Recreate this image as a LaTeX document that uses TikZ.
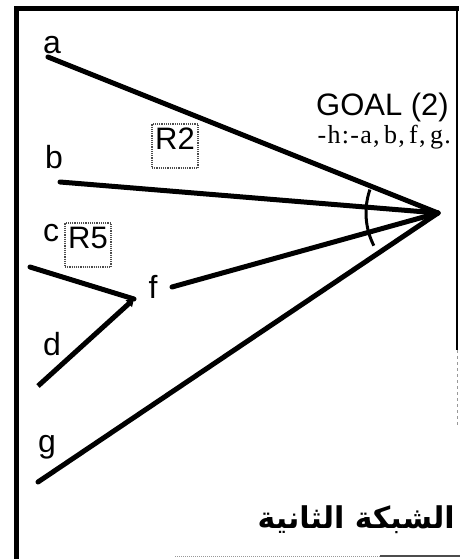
\documentclass[tikz,border=0pt]{standalone}
\usepackage{fontspec}
\setmainfont{Liberation Serif}
\setsansfont{Liberation Sans}
\newfontfamily\arabicfont[Script=Arabic]{DejaVu Sans}
\newfontfamily\rulefont[LetterSpace=5]{Liberation Serif}
\TeXXeTstate=1
\usetikzlibrary{arrows.meta,calc}
\begin{document}
\begin{tikzpicture}[x=1pt,y=1pt,
  lbl/.style={font=\sffamily\fontsize{32}{34}\selectfont, inner sep=0pt},
  wire/.style={line width=5pt, line cap=round},
  rbox/.style={draw=black!70, densely dotted, line width=1.2pt, minimum width=46pt, minimum height=44pt, inner sep=0pt},
  rtext/.style={font=\sffamily\fontsize{31}{33}\selectfont, inner sep=0pt}]
\useasboundingbox (0,0) rectangle (460,-559);
% frame
\draw[line width=5pt] (16,-559) -- (16,-9) -- (459,-9);
\draw[line width=1.5pt] (457,-9) -- (457,-350);
\draw[black!40, line width=1pt, dashed] (457,-350) -- (457,-425);
\draw[black!40, line width=1pt, densely dotted] (175,-556) -- (380,-556);
\draw[black!70, line width=1.2pt] (380,-556) -- (460,-556);
% coordinates
\coordinate (G) at (438,-213);
\coordinate (A) at (48,-57);
\coordinate (B) at (60,-182);
\coordinate (C) at (30,-267);
\coordinate (D) at (38,-386);
\coordinate (J) at (134,-299);
\coordinate (F) at (172,-287);
\coordinate (Gg) at (38,-482);
% connectors
\draw[wire] (A) -- (G);
\draw[wire] (B) -- (G);
\draw[wire] (F) -- (G);
\draw[wire] (Gg) -- (G);
\draw[wire] (C) -- (J);
\draw[wire, -{Triangle[length=7pt,width=9pt]}, line cap=butt] (D) -- (J);
% arc
\draw[line width=3pt] ($(G)+(161:72)$) arc[start angle=161, end angle=207, radius=72];
% labels
\node[lbl] (la) at (52,-45) {a};
\node[lbl] (lb) at (54,-157) {b};
\node[lbl] (lc) at (51,-233) {c};
\node[lbl] (ld) at (52,-344) {d};
\node[lbl] (lf) at (153,-287) {f};
\node[lbl] (lg) at (47,-447) {g};
\node[rbox] (r2) at (175,-146) {};
\node[rtext] (r2t) at (175,-139) {R2};
\node[rbox] (r5) at (88,-245) {};
\node[rtext] (r5t) at (88,-238) {R5};
\node[font=\sffamily\fontsize{31}{33}\selectfont, inner sep=0pt, anchor=base east] (goal) at (449,-116) {GOAL (2)};
\node[font=\rulefont\fontsize{26}{28}\selectfont, inner sep=0pt, anchor=base east] (rule) at (451,-143) {-h:-a,\,b,\,f,\,g.};
\node[font=\arabicfont\bfseries\fontsize{30}{32}\selectfont, inner sep=0pt, anchor=base east] (title) at (455,-528) {\beginR الشبكة الثانية\endR};
\end{tikzpicture}
\end{document}
